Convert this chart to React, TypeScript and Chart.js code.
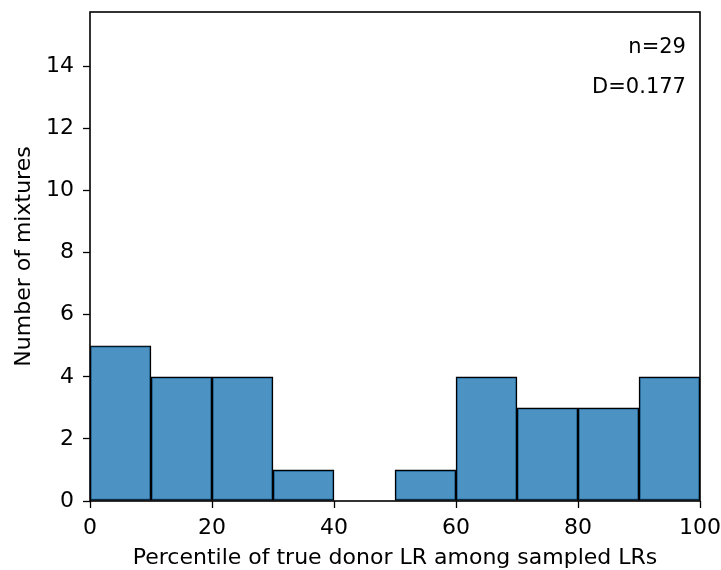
import React, { useEffect, useRef } from "react";
import { Chart, registerables } from "chart.js";

Chart.register(...registerables);

// Histogram bins (percentile, width 10) and counts per bin
const binStarts = [0, 10, 20, 30, 40, 50, 60, 70, 80, 90];
const binWidth = 10;
const counts = [5, 4, 4, 1, 0, 1, 4, 3, 3, 4];
const yTicks = [0, 2, 4, 6, 8, 10, 12, 14];
const xTicks = [0, 20, 40, 60, 80, 100];
const statLines = ["n=29", "D=0.177"];

const FONT = "'DejaVu Sans', sans-serif";

// Box around the plot area plus the stats text in the upper right corner
const frameAndStats = {
  id: "frameAndStats",
  afterDraw(chart: any) {
    const { ctx, chartArea } = chart;
    const { left, right, top, bottom } = chartArea;
    ctx.save();
    ctx.strokeStyle = "#000";
    ctx.lineWidth = 1.6;
    ctx.strokeRect(left, top, right - left, bottom - top);
    ctx.fillStyle = "#000";
    ctx.font = `21px ${FONT}`;
    ctx.textAlign = "right";
    ctx.textBaseline = "middle";
    const h = bottom - top;
    const w = right - left;
    const fracs = [0.928, 0.846];
    statLines.forEach((t, i) => {
      ctx.fillText(t, left + w * 0.977, bottom - h * fracs[i]);
    });
    ctx.restore();
  },
};

export default function App() {
  const ref = useRef<HTMLCanvasElement | null>(null);

  useEffect(() => {
    if (!ref.current) return;
    const data = binStarts.map((s, i) => ({ x: s + binWidth / 2, y: counts[i] }));
    const chart = new Chart(ref.current, {
      type: "bar",
      data: {
        datasets: [
          {
            data,
            backgroundColor: "rgba(31,119,180,0.8)",
            borderColor: "#000",
            borderWidth: 1.4,
            borderSkipped: false,
            barPercentage: 1,
            categoryPercentage: 1,
            grouped: false,
          } as any,
        ],
      },
      options: {
        animation: false,
        responsive: false,
        events: [],
        layout: { padding: { top: 12, right: 21, left: 0, bottom: 0 } },
        plugins: { legend: { display: false }, tooltip: { enabled: false } },
        scales: {
          x: {
            type: "linear",
            offset: false,
            min: 0,
            max: 100,
            afterBuildTicks: (s: any) => {
              s.ticks = xTicks.map((v) => ({ value: v }));
            },
            afterFit: (s: any) => {
              s.height = 69;
              s.paddingLeft = 0;
              s.paddingRight = 0;
            },
            grid: {
              drawOnChartArea: false,
              drawTicks: true,
              tickLength: 7,
              tickColor: "#000",
              tickWidth: 1.3,
              offset: false,
            },
            border: { display: false },
            ticks: {
              color: "#000",
              font: { family: FONT, size: 22 },
              padding: 7,
              maxRotation: 0,
            },
            title: {
              display: true,
              text: "Percentile of true donor LR among sampled LRs",
              color: "#000",
              font: { family: FONT, size: 22 },
              padding: { top: 0, bottom: -1.5 },
            },
          },
          y: {
            type: "linear",
            min: 0,
            max: 15.75,
            afterBuildTicks: (s: any) => {
              s.ticks = yTicks.map((v) => ({ value: v }));
            },
            afterFit: (s: any) => {
              s.width = 90;
              s.paddingTop = 0;
              s.paddingBottom = 0;
            },
            grid: {
              drawOnChartArea: false,
              drawTicks: true,
              tickLength: 7,
              tickColor: "#000",
              tickWidth: 1.3,
            },
            border: { display: false },
            ticks: {
              color: "#000",
              font: { family: FONT, size: 22 },
              padding: 9,
            },
            title: {
              display: true,
              text: "Number of mixtures",
              color: "#000",
              font: { family: FONT, size: 22 },
              padding: { top: 11, bottom: 0 },
            },
          },
        },
      },
      plugins: [frameAndStats],
    });
    return () => chart.destroy();
  }, []);

  return (
    <div style={{ position: "fixed", left: 0, top: 0, width: 721, height: 570, background: "#fff" }}>
      <canvas ref={ref} width={721} height={570} style={{ width: 721, height: 570, display: "block" }} />
    </div>
  );
}
